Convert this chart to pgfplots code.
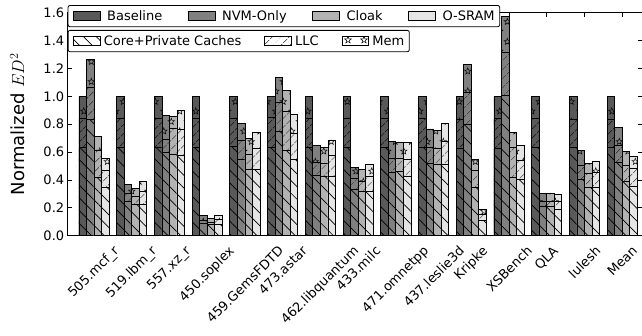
\documentclass[border=0pt]{standalone}
\usepackage{fontspec}
\setmainfont{DejaVu Sans}
\usepackage{graphicx}
\usepackage{pgfplots}
\pgfplotsset{compat=1.18}
\usepackage{pgfplotstable}
\usetikzlibrary{patterns,patterns.meta}

\definecolor{cB}{gray}{0.35}
\definecolor{cN}{gray}{0.50}
\definecolor{cC}{gray}{0.70}
\definecolor{cO}{gray}{0.90}

\tikzdeclarepattern{
  name=hollowstars,
  type=uncolored,
  bottom left={(0pt,0pt)},
  top right={(16pt,20pt)},
  tile size={(16pt,20pt)},
  code={
    \draw[line width=0.5pt, line join=miter, shift={(4pt,5pt)}] (90:3.6pt) -- (126:1.5pt) -- (162:3.6pt) -- (198:1.5pt) -- (234:3.6pt) -- (270:1.5pt) -- (306:3.6pt) -- (342:1.5pt) -- (18:3.6pt) -- (54:1.5pt) -- cycle;
    \draw[line width=0.5pt, line join=miter, shift={(12pt,15pt)}] (90:3.6pt) -- (126:1.5pt) -- (162:3.6pt) -- (198:1.5pt) -- (234:3.6pt) -- (270:1.5pt) -- (306:3.6pt) -- (342:1.5pt) -- (18:3.6pt) -- (54:1.5pt) -- cycle;
  }
}

\pgfplotstableread{
x b1 b2 b3 n1 n2 n3 c1 c2 c3 o1 o2 o3
0 0.632 0.842 1.000 0.837 1.062 1.265 0.416 0.610 0.711 0.347 0.471 0.555
1 0.632 0.842 1.000 0.249 0.304 0.371 0.225 0.280 0.342 0.227 0.316 0.388
2 0.632 0.842 1.000 0.600 0.690 0.860 0.585 0.768 0.853 0.580 0.764 0.900
3 0.632 0.842 1.000 0.089 0.108 0.144 0.084 0.098 0.124 0.084 0.115 0.148
4 0.639 0.842 1.000 0.550 0.687 0.806 0.478 0.584 0.699 0.478 0.627 0.742
5 0.632 0.847 1.000 0.746 0.957 1.136 0.615 0.895 1.043 0.550 0.734 0.871
6 0.632 0.842 1.000 0.435 0.526 0.646 0.423 0.519 0.632 0.428 0.574 0.687
7 0.632 0.842 1.000 0.333 0.411 0.488 0.316 0.388 0.476 0.321 0.423 0.512
8 0.632 0.842 1.000 0.452 0.555 0.675 0.459 0.555 0.667 0.423 0.550 0.670
9 0.632 0.842 1.000 0.519 0.632 0.766 0.514 0.627 0.758 0.512 0.679 0.806
10 0.627 0.837 1.000 0.799 1.029 1.232 0.344 0.467 0.550 0.112 0.153 0.187
11 0.627 0.842 1.000 1.010 1.316 1.577 0.416 0.634 0.744 0.407 0.543 0.651
12 0.632 0.842 1.000 0.208 0.249 0.304 0.208 0.244 0.304 0.189 0.249 0.297
13 0.632 0.837 1.000 0.407 0.507 0.615 0.344 0.447 0.519 0.344 0.452 0.536
14 0.634 0.837 1.000 0.526 0.646 0.778 0.388 0.502 0.603 0.352 0.483 0.567
}\data

\pgfplotsset{
  barbase/.style={ybar, bar width=0.2, draw=black, line width=0.8pt, forget plot},
  memhatch/.style={postaction={pattern=hollowstars}},
  llchatch/.style={postaction={pattern={Lines[angle=45,distance=6.5pt,line width=0.7pt]}}},
  corehatch/.style={postaction={pattern={Lines[angle=-45,distance=9pt,line width=0.7pt]}}},
  legimg/.style={legend image code/.code={\draw[##1, sharp corners, draw=black, line width=0.8pt] (0pt,-4.6pt) rectangle (26.6pt,4.6pt);}},
}

\newcommand{\stackbars}[5]{%
  \addplot[barbase, bar shift=#1, fill=#2, memhatch] table[x=x,y=#5]{\data};
  \addplot[barbase, bar shift=#1, fill=#2, llchatch] table[x=x,y=#4]{\data};
  \addplot[barbase, bar shift=#1, fill=#2, corehatch] table[x=x,y=#3]{\data};
}

\begin{document}
\begin{tikzpicture}
\begin{axis}[
  scale only axis,
  width=574.3pt, height=222.9pt,
  xmin=-0.697, xmax=14.525,
  ymin=0, ymax=1.6,
  ytick={0,0.2,0.4,0.6,0.8,1.0,1.2,1.4,1.6},
  yticklabel style={/pgf/number format/.cd, fixed, fixed zerofill, precision=1},
  /pgf/number format/assume math mode=true,
  xtick={0,1,2,3,4,5,6,7,8,9,10,11,12,13,14},
  xticklabels={
    \rotatebox{45}{505.mcf\_r},
    \rotatebox{45}{519.lbm\_r},
    \rotatebox{45}{557.xz\_r},
    \rotatebox{45}{450.soplex},
    \rotatebox{45}{459.GemsFDTD},
    \rotatebox{45}{473.astar},
    \rotatebox{45}{462.libquantum},
    \rotatebox{45}{433.milc},
    \rotatebox{45}{471.omnetpp},
    \rotatebox{45}{437.leslie3d},
    \rotatebox{45}{Kripke},
    \rotatebox{45}{XSBench},
    \rotatebox{45}{QLA},
    \rotatebox{45}{lulesh},
    \rotatebox{45}{Mean}},
  xticklabel style={anchor=north, inner sep=0pt, yshift=-9pt},
  ticklabel style={font=\fontsize{13}{15}\selectfont},
  tick align=inside,
  major tick length=4.5pt,
  tick style={black, line width=0.8pt},
  axis line style={line width=0.9pt},
  ylabel={Normalized $ED^2$},
  ylabel style={font=\fontsize{18}{21}\selectfont, at={(axis description cs:-0.076,0.5)}, anchor=base},
  legimg,
  legend columns=4,
  legend cell align=left,
  legend style={at={(0,1.035)}, anchor=north west, draw=black, line width=0.8pt,
    rounded corners=2pt, fill=white, inner xsep=5pt, inner ysep=3pt,
    font=\fontsize{13}{15}\selectfont,
    nodes={inner xsep=0pt, inner ysep=2pt},
    /tikz/every odd column/.append style={column sep=6.7pt},
    /tikz/every even column/.append style={column sep=25.7pt}},
]
\coordinate (bl) at (rel axis cs:0,0);
\coordinate (tr) at (rel axis cs:1,1);
\stackbars{-0.3}{cB}{b1}{b2}{b3}
\stackbars{-0.1}{cN}{n1}{n2}{n3}
\stackbars{0.1}{cC}{c1}{c2}{c3}
\stackbars{0.3}{cO}{o1}{o2}{o3}
\addlegendimage{fill=cB}
\addlegendentry{Baseline}
\addlegendimage{fill=cN}
\addlegendentry{NVM-Only}
\addlegendimage{fill=cC}
\addlegendentry{Cloak}
\addlegendimage{fill=cO}
\addlegendentry{O-SRAM}
\end{axis}
\begin{axis}[
  scale only axis,
  width=574.3pt, height=222.9pt,
  xmin=0, xmax=1, ymin=0, ymax=1,
  hide axis,
  legimg,
  legend columns=3,
  legend cell align=left,
  legend style={at={(0,0.923)}, anchor=north west, draw=black, line width=0.8pt,
    rounded corners=2pt, fill=white, inner xsep=5pt, inner ysep=3pt,
    font=\fontsize{13}{15}\selectfont,
    nodes={inner xsep=0pt, inner ysep=2pt},
    /tikz/every odd column/.append style={column sep=3.3pt},
    /tikz/every even column/.append style={column sep=23pt}},
]
\addlegendimage{fill=white, corehatch}
\addlegendentry{Core+Private Caches}
\addlegendimage{fill=white, llchatch}
\addlegendentry{LLC}
\addlegendimage{fill=white, memhatch}
\addlegendentry{Mem}
\end{axis}
\pgfresetboundingbox
\path ([shift={(-67.7pt,-99.3pt)}]bl) rectangle ([shift={(0pt,12.8pt)}]tr);
\end{tikzpicture}
\end{document}
